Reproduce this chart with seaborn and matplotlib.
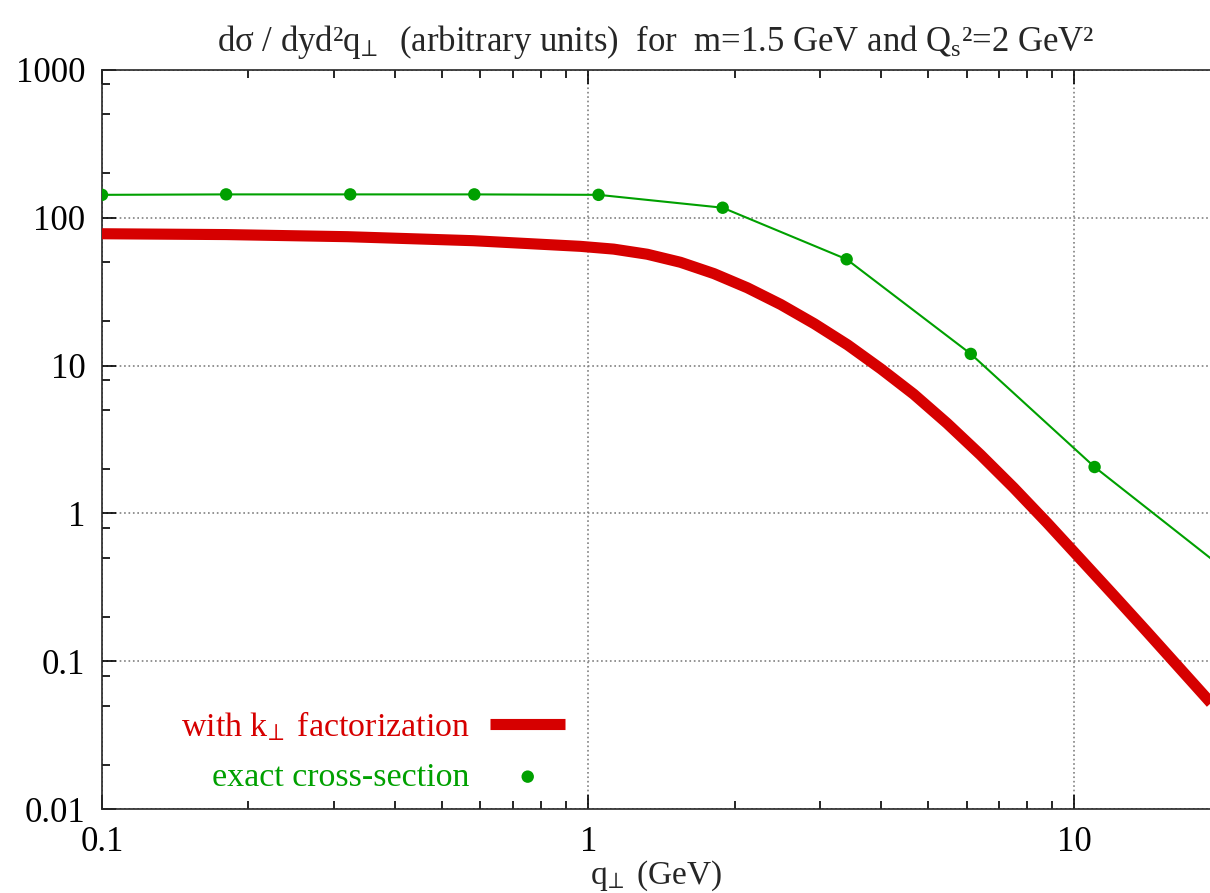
import numpy as np
import pandas as pd
import matplotlib
matplotlib.use('Agg')
from matplotlib import pyplot as plt
from matplotlib.ticker import LogLocator, NullFormatter, FixedLocator
import seaborn as sns

# values (log-log)
kt_q = [0.1, 0.18, 0.32, 0.58, 0.964, 1.128, 1.322, 1.548, 1.814, 2.125, 2.489, 2.917,
        3.417, 4.0, 4.67, 5.47, 6.41, 7.5, 8.78, 10.3, 12.06, 14.1, 16.6, 19.1]
kt_sigma = [78, 77, 74.5, 70, 64.1, 61.4, 56.7, 50.0, 41.9, 33.6, 25.9, 19.2,
            13.8, 9.5, 6.41, 4.07, 2.49, 1.49, 0.865, 0.489, 0.278, 0.158, 0.0869, 0.052]

exact_q = [0.1, 0.18, 0.324, 0.583, 1.05, 1.89, 3.40, 6.12, 11.0, 19.8]
exact_sigma = [143, 144, 144, 144, 143, 117, 52.4, 12.0, 2.06, 0.45]

title = ('dσ / dyd²$\\mathregular{q_{\\!\\bot}}$  (arbitrary units)  for  m=1.5 GeV and '
         '$\\mathregular{Q_s}$²=2 GeV²')
kt_label = 'with $\\mathregular{k_{\\!\\bot}}$ factorization'
exact_label = 'exact cross-section'
xlabel = '$\\mathregular{q_{\\!\\bot}}$ (GeV)'

RED = '#d60000'
GREEN = '#00a000'

sns.set_style('ticks')
plt.rcParams['font.family'] = ['Liberation Serif', 'DejaVu Serif']
plt.rcParams['mathtext.fontset'] = 'stix'
plt.rcParams['axes.linewidth'] = 1.2

kt = pd.DataFrame({'q': kt_q, 'sigma': kt_sigma})
exact = pd.DataFrame({'q': exact_q, 'sigma': exact_sigma})

fig = plt.figure(figsize=(12.1, 8.93), dpi=100)
ax = fig.add_axes([102 / 1210, 1 - 809 / 893, 1 - 102 / 1210, (809 - 70) / 893])
ax.set_xscale('log')
ax.set_yscale('log')

sns.lineplot(data=kt, x='q', y='sigma', ax=ax, color=RED, lw=8, label=kt_label,
             solid_capstyle='butt', solid_joinstyle='round', zorder=3)
sns.lineplot(data=exact, x='q', y='sigma', ax=ax, color=GREEN, lw=1.5, zorder=4)
sns.scatterplot(data=exact, x='q', y='sigma', ax=ax, color=GREEN, s=80, edgecolor='none',
                label=exact_label, zorder=5)

ax.set_xlim(0.1, 19.0)
ax.set_ylim(0.01, 1000)

ax.xaxis.set_major_locator(FixedLocator([0.1, 1, 10]))
ax.xaxis.set_minor_locator(LogLocator(base=10, subs=np.arange(2, 10)))
ax.yaxis.set_major_locator(FixedLocator([0.01, 0.1, 1, 10, 100, 1000]))
ax.yaxis.set_minor_locator(LogLocator(base=10, subs=[2, 5, 8]))
ax.xaxis.set_minor_formatter(NullFormatter())
ax.yaxis.set_minor_formatter(NullFormatter())
ax.set_xticklabels(['0.1', '1', '10'])
ax.set_yticklabels(['0.01', '0.1', '1', '10', '100', '1000'])

ax.tick_params(which='both', direction='in', top=True, right=False, labelsize=25,
               width=1.2, pad=12, colors='black')
ax.tick_params(which='major', length=10)
ax.tick_params(which='minor', length=6)
ax.spines['right'].set_visible(False)

ax.grid(True, which='major', color='#808080', linestyle=':', linewidth=1.2)
ax.set_axisbelow(True)

ax.set_xlabel(xlabel, fontsize=24, labelpad=0)
ax.set_ylabel('')
ax.set_title(title, fontsize=25, pad=14)

leg = ax.legend(loc='upper right', bbox_to_anchor=(0.418, 0.135), frameon=False,
                markerfirst=False, fontsize=24.5, handlelength=2.2, handletextpad=0.6,
                labelspacing=0.55, borderpad=0, borderaxespad=0)
for txt, col in zip(leg.get_texts(), [RED, GREEN]):
    txt.set_color(col)

fig.savefig('out.png', dpi=100)
